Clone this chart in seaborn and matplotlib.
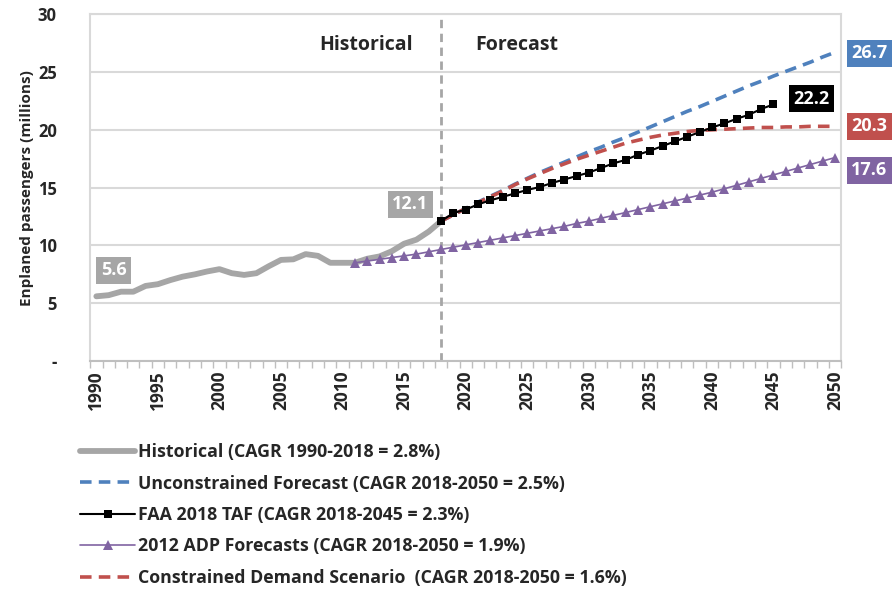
import numpy as np
import pandas as pd
import matplotlib
matplotlib.use("Agg")
import matplotlib.pyplot as plt
import seaborn as sns

# series (millions of enplaned passengers)
hist_years = list(range(1990, 2019))
hist_vals = [5.6, 5.7, 6.0, 6.0, 6.5, 6.65, 7.0, 7.3, 7.5, 7.75, 7.95,
             7.6, 7.45, 7.6, 8.2, 8.75, 8.8, 9.25, 9.1, 8.5, 8.5,
             8.5, 8.85, 9.05, 9.5, 10.15, 10.5, 11.2, 12.1]

fc_years = list(range(2018, 2051))
unconstrained = [12.1, 12.65, 13.2, 13.75, 14.25, 14.75, 15.3, 15.8, 16.3, 16.75,
                 17.2, 17.65, 18.1, 18.5, 18.95, 19.35, 19.8, 20.25, 20.7, 21.15,
                 21.6, 22.0, 22.45, 22.9, 23.35, 23.8, 24.2, 24.65, 25.05, 25.45,
                 25.85, 26.3, 26.7]
constrained = [12.1, 12.65, 13.2, 13.7, 14.2, 14.7, 15.25, 15.75, 16.2, 16.65,
               17.05, 17.45, 17.8, 18.15, 18.5, 18.85, 19.1, 19.35, 19.55, 19.7,
               19.85, 19.95, 20.0, 20.05, 20.1, 20.15, 20.2, 20.2, 20.25, 20.25,
               20.3, 20.3, 20.3]

taf_years = list(range(2018, 2046))
taf_vals = [12.1, 12.8, 13.1, 13.55, 13.9, 14.2, 14.5, 14.8, 15.05, 15.4,
            15.7, 16.0, 16.3, 16.7, 17.1, 17.4, 17.85, 18.2, 18.6, 19.0,
            19.4, 19.8, 20.2, 20.55, 20.95, 21.3, 21.8, 22.2]

adp_years = list(range(2011, 2051))
adp_vals = [8.5, 8.65, 8.8, 8.95, 9.1, 9.25, 9.45, 9.65, 9.85, 10.05,
            10.25, 10.45, 10.65, 10.85, 11.05, 11.25, 11.45, 11.65, 11.9, 12.1,
            12.35, 12.6, 12.85, 13.1, 13.35, 13.6, 13.85, 14.1, 14.35, 14.6,
            14.9, 15.2, 15.5, 15.8, 16.1, 16.4, 16.7, 17.0, 17.3, 17.6]

labels = ["Historical (CAGR 1990-2018 = 2.8%)",
          "Unconstrained Forecast (CAGR 2018-2050 = 2.5%)",
          "FAA 2018 TAF (CAGR 2018-2045 = 2.3%)",
          "2012 ADP Forecasts (CAGR 2018-2050 = 1.9%)",
          "Constrained Demand Scenario  (CAGR 2018-2050 = 1.6%)"]

GRAY = "#A6A6A6"
BLUE = "#4F81BD"
RED = "#C0504D"
PURPLE = "#8064A2"

sns.set_theme(style="white")
plt.rcParams["font.family"] = ["Open Sans", "DejaVu Sans"]

fig = plt.figure(figsize=(8.93, 5.9), dpi=100)
ax = fig.add_axes([0.101, 0.388, 0.841, 0.588])

sns.lineplot(x=hist_years, y=hist_vals, ax=ax, color=GRAY, lw=4.2,
             solid_capstyle="round", label=labels[0])
sns.lineplot(x=fc_years, y=unconstrained, ax=ax, color=BLUE, lw=2.6,
             linestyle=(0, (3.2, 2)), label=labels[1])
sns.lineplot(x=fc_years, y=constrained, ax=ax, color=RED, lw=2.6,
             linestyle=(0, (3.2, 2)), label=labels[4])
sns.lineplot(x=adp_years, y=adp_vals, ax=ax, color=PURPLE, lw=1.2,
             marker="^", markersize=7, markeredgewidth=0, label=labels[3])
sns.lineplot(x=taf_years, y=taf_vals, ax=ax, color="black", lw=1.5,
             marker="s", markersize=6, markeredgewidth=0, label=labels[2])

ax.axvline(2018, color=GRAY, lw=2, linestyle=(0, (3, 2)), zorder=1)

ax.set_xlim(1989.5, 2050.5)
ax.set_ylim(0, 30)
ax.set_yticks(range(0, 31, 5))
ax.set_yticklabels(["-"] + [str(v) for v in range(5, 31, 5)])
ax.set_xticks(range(1990, 2051, 5))
ax.set_xticks(np.arange(1989.5, 2051, 1), minor=True)
ax.tick_params(axis="x", which="major", length=0, pad=7, labelrotation=90,
               labelsize=12.5)
ax.tick_params(axis="x", which="minor", length=5, color="#BFBFBF", width=1,
               bottom=True)
ax.tick_params(axis="y", length=0, labelsize=12, pad=24)
for t in ax.get_xticklabels() + ax.get_yticklabels():
    t.set_fontweight("bold")

ax.grid(axis="y", color="#D9D9D9", lw=1.5)
ax.set_axisbelow(True)
for side in ["top", "right", "left", "bottom"]:
    ax.spines[side].set_color("#D9D9D9")
    ax.spines[side].set_linewidth(1.5)
ax.spines["bottom"].set_color("#BFBFBF")

ax.set_xlabel("")
ax.set_ylabel("Enplaned passengers (millions)", fontsize=11, fontweight="bold",
              labelpad=3)

ax.text(2015.7, 27.3, "Historical", ha="right", va="center", fontsize=14,
        fontweight="bold")
ax.text(2020.8, 27.3, "Forecast", ha="left", va="center", fontsize=14,
        fontweight="bold")

box = dict(boxstyle="square,pad=0.25", ec="none")
ax.text(1991.4, 7.85, f"{hist_vals[0]:.1f}", color="white", fontsize=13,
        fontweight="bold", ha="center", va="center", bbox={**box, "fc": GRAY})
ax.text(2015.5, 13.55, f"{hist_vals[-1]:.1f}", color="white", fontsize=13,
        fontweight="bold", ha="center", va="center", bbox={**box, "fc": GRAY})
ax.text(2048.1, 22.7, f"{taf_vals[-1]:.1f}", color="white", fontsize=13,
        fontweight="bold", ha="center", va="center", bbox={**box, "fc": "black"})
for val, yy, c in [(unconstrained[-1], 26.6, BLUE), (constrained[-1], 20.3, RED),
                   (adp_vals[-1], 16.5, PURPLE)]:
    ax.text(2052.8, yy, f"{val:.1f}", color="white", fontsize=13,
            fontweight="bold", ha="center", va="center", clip_on=False,
            bbox={**box, "fc": c})

handles, labs = ax.get_legend_handles_labels()
order = [labels.index(l) for l in labs]
pairs = sorted(zip(order, handles, labs))
ax.legend_.remove()
leg = fig.legend([p[1] for p in pairs], [p[2] for p in pairs],
                 loc="upper left", bbox_to_anchor=(0.072, 0.276), frameon=False,
                 handlelength=3.1, handletextpad=0.15, labelspacing=0.755,
                 prop={"size": 12.8, "weight": "bold"})

plt.savefig("out.png", dpi=100)
